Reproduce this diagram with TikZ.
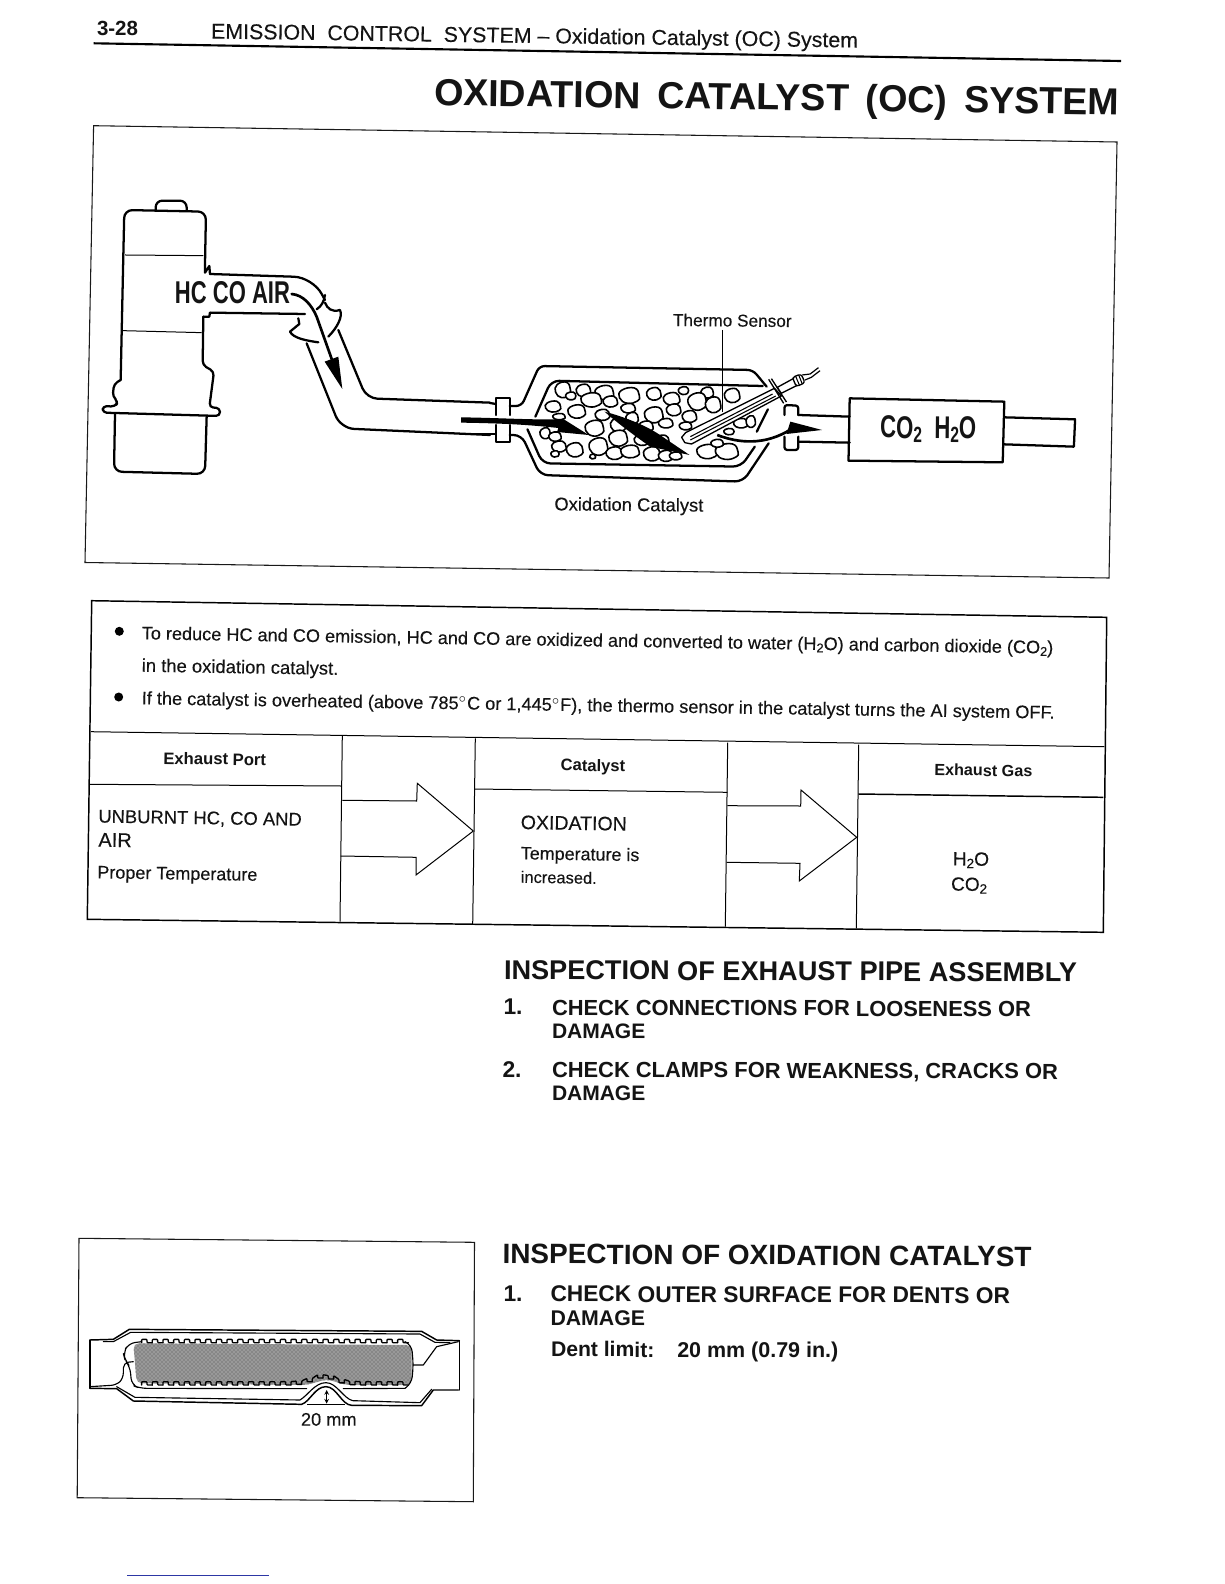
\documentclass[tikz,border=0pt]{standalone}
\usepackage{graphicx}
\usepackage{fontspec}
\usetikzlibrary{patterns}
\setmainfont{Liberation Sans}[UprightFeatures={FakeBold=0.2}]
\newdimen\pxw
\newdimen\pxh
\newcommand\T[6][-0.9]{\node[txt,rotate=#1] (#2) at (#3,#4) {\pxw=#5pt \pxw=0.75\pxw \resizebox{\pxw}{!}{#6}};}
\newcommand\TT[7][-0.5]{\node[txt,rotate=#1] (#2) at (#3,#4) {\pxw=#5pt \pxw=0.75\pxw \pxh=#6pt \pxh=0.75\pxh \resizebox{\pxw}{\pxh}{#7}};}
\newcommand\sub[1]{\raisebox{-0.25ex}{\scalebox{0.7}{#1}}}
\definecolor{linkblue}{RGB}{45,55,165}
\tikzset{
  txt/.style={anchor=base west,inner sep=0pt,outer sep=0pt,text=black!92},
  frame/.style={line width=0.8pt,draw=black!90},
  thick line/.style={line width=1.1pt,draw=black},
  part/.style={line width=1.7pt,draw=black,line join=round,line cap=round},
  fine/.style={line width=0.75pt,draw=black},
  cat/.style={line width=0.85pt,draw=black,line join=round,line cap=round},
  pebble/.style={line width=1.2pt,draw=black,fill=white,line join=round},
}
\begin{document}
\begin{tikzpicture}[x=0.75pt,y=-0.75pt]
\useasboundingbox (0,0) rectangle (1224,1584);
\fill[white] (0,0) rectangle (1224,1584);

% ---- page header
\T[0]{pg}{97}{36}{41}{\bfseries 3-28}
\T[-0.8]{hdr}{211}{38.5}{647}{EMISSION\ \ CONTROL\ \ SYSTEM -- Oxidation Catalyst (OC) System}
\draw[line width=1.6pt] (93.6,43.3) -- (1121,61);
\T[-0.8]{title}{434}{105.5}{685}{\bfseries OXIDATION\ \,CATALYST\ \,(OC)\ \,SYSTEM}

% ---- top figure frame
\draw[frame] (93.6,125.7) -- (1117,142) -- (1109,578) -- (85,562.5) -- cycle;

% ---- engine & front pipe (traced in zoom-1 units)
\begin{scope}[shift={(90,180)},scale=0.3333]
  \draw[part,rounded corners=5pt] (197,90) -- (197,62) -- (290,62) -- (290,92);
  \draw[part,rounded corners=6pt] (345,255) -- (348,95) -- (103,90) -- (100,225) -- (92,600);
  \draw[part,rounded corners=3pt] (92,600) -- (72,612) -- (68,650) -- (85,665) -- (75,680) -- (38,678) -- (38,698) -- (390,708) -- (390,684) -- (358,682) -- (372,575) -- (338,555) -- (340,410);
  \draw[part,rounded corners=6pt] (75,702) -- (72,875) -- (345,882) -- (350,710);
  \draw[fine] (105,225) -- (340,227);
  \draw[fine] (98,452) -- (335,458);
  \draw[part] (345,255) -- (345,278) -- (358,258) -- (360,282);
  \draw[part] (340,410) -- (358,410) -- (360,398);
  \draw[part,rounded corners=14pt] (360,282) -- (668,292) -- (705,360);
  \draw[part] (705,345) .. controls (702,365) and (695,378) .. (680,388);
  \draw[part] (705,368) .. controls (712,385) and (725,398) .. (750,390) .. controls (760,410) and (740,445) .. (715,470);
  \draw[part,rounded corners=8pt] (745,450) -- (830,655) -- (1200,668);
  \draw[part] (360,398) -- (645,402);
  \draw[part] (625,415) -- (628,432) -- (600,455) .. controls (610,475) and (650,482) .. (685,487);
  \draw[part,rounded corners=10pt] (650,490) -- (752,745) -- (1200,765);
  \draw[line width=2pt,line cap=round] (605,342) .. controls (640,345) and (665,375) .. (680,410) -- (728,545);
  \fill (704,545) -- (745,530) -- (757,627) -- cycle;
  \TT[0]{gases}{255}{370}{115}{22}{\bfseries HC\ CO\ AIR}
\end{scope}

% ---- converter & muffler (traced in zoom-2 units)
\begin{scope}[shift={(480,300)},xscale=0.3954,yscale=0.3333]
  % pipe ends and left flange
  \draw[part] (25,309) -- (40,312);
  \draw[part] (-10,402) -- (40,402);
  \draw[part] (40,345) -- (40,295) -- (75,295) -- (75,345);
  \draw[part] (40,375) -- (40,425) -- (75,425) -- (75,375);
  % shell
  \draw[part,rounded corners=4pt] (75,318) -- (105,318) -- (150,198) -- (690,210) -- (725,260);
  \draw[part,rounded corners=6pt] (75,405) -- (105,405) -- (152,525) -- (665,545) -- (730,430);
  % bed
  \draw[part,rounded corners=6pt] (140,350) -- (180,242) -- (715,258);
  \draw[part,rounded corners=6pt] (120,388) -- (158,490) -- (660,500) -- (695,440);
  \draw[part] (700,395) -- (728,328);
  % pellets
  \foreach \X/\Y/\P/\Q in {210/270/15/20,262/272/14/16,315/278/18/18,378/287/20/20,440/282/14/16,485/297/16/16,515/272/10/10,575/278/12/14,638/287/15/18,550/305/18/22,230/288/10/10,185/320/15/14,245/335/17/17,282/300/20/18,330/305/14/14,375/325/14/12,310/345/14/14,440/345/18/20,490/330/14/15,530/350/14/15,590/315/15/20,200/350/12/8,290/385/18/20,350/375/15/18,385/355/12/15,420/380/14/14,470/370/14/12,520/378/12/10,165/400/10/14,190/410/12/12,350/415/18/20,300/440/18/22,340/460/16/16,380/455/18/16,435/462/16/18,470/468/14/14,240/450/16/18,200/440/14/14,190/462/8/8,285/470/6/6,495/468/12/10,575/455/20/18,625/455/22/20,410/420/15/14,600/430/12/10,460/420/14/12,660/370/14/12,685/365/9/15,630/395/10/8}
  {
    \pgfmathsetmacro\A{1.25*\P}
    \pgfmathsetmacro\B{1.15*\Q}
    \draw[pebble] plot[smooth cycle,tension=0.8] coordinates {({\X+\A},\Y) ({\X+0.5*\A},{\Y-\B}) ({\X-0.8*\A},{\Y-0.7*\B}) ({\X-\A},{\Y+0.3*\B}) ({\X-0.2*\A},{\Y+\B}) ({\X+0.8*\A},{\Y+0.7*\B})};
  }
  % flow arrows
  \fill (-48,352) .. controls (60,354) and (130,360) .. (212,358) -- (275,405) -- (195,396) -- (198,384) .. controls (120,374) and (60,370) .. (-48,368) -- cycle;
  \fill (315,335) .. controls (370,352) and (425,380) .. (455,405) -- (530,465) -- (430,440) .. controls (395,410) and (350,372) .. (315,335) -- cycle;
  \draw[line width=2pt] (600,405) .. controls (650,428) and (720,440) .. (790,385);
  \fill (785,365) -- (865,390) -- (775,402) -- cycle;
  % sensor
  \draw[line width=1pt,fill=white,line join=round] (510,412) -- (520,398) -- (745,265) -- (762,288) -- (535,432) -- (518,428) -- cycle;
  \draw[line width=0.8pt] (532,410) -- (740,282);
  \draw[line width=0.8pt] (532,420) -- (748,288);
  \draw[line width=1pt] (730,238) -- (768,310);
  \draw[line width=1pt] (737,236) -- (775,306);
  \draw[line width=1pt,fill=white] (752,262) -- (792,236) -- (802,256) -- (762,280) -- cycle;
  \draw[line width=1pt,fill=white,rounded corners=2pt] (790,232) -- (812,222) -- (822,248) -- (800,260) -- cycle;
  \draw[line width=0.8pt] (798,228) -- (808,256);
  \draw[line width=0.8pt] (806,225) -- (815,252);
  \draw[line width=0.9pt] (815,225) -- (835,222) -- (856,203);
  \draw[line width=0.9pt] (822,240) -- (838,232) -- (860,212);
  % right flange, pipe, muffler
  \draw[part,rounded corners=2pt] (770,345) -- (770,315) -- (805,317) -- (805,345);
  \draw[part,rounded corners=2pt] (770,410) -- (770,450) -- (805,450) -- (805,410);
  \draw[part] (805,345) -- (935,350);
  \draw[part] (805,425) -- (935,428);
  \draw[part] (935,295) -- (1326,305) -- (1322,487) -- (932,482) -- cycle;
  \draw[part] (1326,352) -- (1505,358) -- (1502,440) -- (1324,433);
  \TT[-0.5]{prod}{1012}{414}{96}{22}{\bfseries CO\sub{2}\ \ H\sub{2}O}
  % labels
  \T[-0.5]{thermo}{488}{78}{118.6}{Thermo Sensor}
  \T[-0.5]{oxcat}{188}{631}{149}{Oxidation Catalyst}
  \coordinate (tsa) at (613,90);
  \coordinate (tsb) at (613,335);
  \draw[line width=0.6pt] (tsa) -- (tsb);
\end{scope}

% ---- text and table frame
\draw[thick line] (91.7,600.7) -- (1106.7,617.3) -- (1103.3,932.3) -- (87.3,919.3) -- cycle;
\draw[fine] (91,731.7) -- (1104.3,746.7);
\draw[fine] (342.3,735.7) -- (340,921.7);
\draw[fine] (475.3,738.3) -- (472.7,924.3);
\draw[fine] (727.7,742.7) -- (725.3,926.7);
\draw[fine] (858.7,744.7) -- (856.3,928.3);
\draw[fine] (90,784.3) -- (341.7,786);
\draw[fine] (474.7,789) -- (727.3,792.3);
\draw[thick line] (858.3,794) -- (1103.3,797.3);
% table arrows
\draw[fine,line join=miter] (342.3,800.3) -- (416.7,801) -- (417.3,783.3) -- (473.3,831) -- (416,875) -- (416,857.3) -- (340.7,856);
\draw[fine,line join=miter] (727.3,805.7) -- (800.7,806) -- (801,790) -- (856.7,837.3) -- (799.3,881) -- (800,863.3) -- (726.7,862.3);
% bullets
\fill (119.3,631.3) circle (4.5);
\fill (118.7,697) circle (4.5);
\T{l1}{141.7}{639.3}{911.6}{To reduce HC and CO emission, HC and CO are oxidized and converted to water (H\sub{2}O) and carbon dioxide (CO\sub{2})}
\T{l2}{141.7}{671.7}{196.6}{in the oxidation catalyst.}
\T{l3}{141.7}{704.3}{913}{If the catalyst is overheated (above 785$^{\circ}$C or 1,445$^{\circ}$F), the thermo sensor in the catalyst turns the AI system OFF.}
\T{h1}{163.3}{764}{102.7}{\bfseries Exhaust Port}
\T{h2}{560.7}{770.7}{64.5}{\bfseries Catalyst}
\T{h3}{934.3}{775.3}{98}{\bfseries Exhaust Gas}
\T{c1a}{98.3}{822.5}{203.4}{UNBURNT HC, CO AND}
\T{c1b}{98.3}{846.7}{33.4}{AIR}
\T{c1c}{97.3}{878.3}{160}{Proper Temperature}
\T{c2a}{520.7}{829}{106}{OXIDATION}
\T{c2b}{520.7}{859.3}{118.6}{Temperature is}
\T{c2c}{520.7}{882.7}{76}{increased.}
\T{c3a}{952.7}{865.3}{36.3}{H\sub{2}O}
\T{c3b}{951}{890.5}{36}{CO\sub{2}}

% ---- inspection of exhaust pipe
\T[-0.25]{s1}{504}{979.3}{573}{\bfseries INSPECTION OF EXHAUST PIPE ASSEMBLY}
\T[-0.2]{s1n1}{503.5}{1014.5}{19}{\bfseries 1.}
\T[-0.2]{s1a}{552}{1015}{479}{\bfseries CHECK\ CONNECTIONS\ FOR\ LOOSENESS\ OR}
\T[-0.2]{s1b}{552}{1038.3}{93.3}{\bfseries DAMAGE}
\T[-0.2]{s1n2}{502.5}{1077.3}{19}{\bfseries 2.}
\T[-0.2]{s1c}{552}{1077.3}{506}{\bfseries CHECK\ CLAMPS\ FOR\ WEAKNESS,\ CRACKS\ OR}
\T[-0.2]{s1d}{552}{1100.7}{93.3}{\bfseries DAMAGE}

% ---- inspection of oxidation catalyst
\T[-0.3]{s2}{502.5}{1263.5}{529}{\bfseries INSPECTION OF OXIDATION CATALYST}
\T[-0.2]{s2n}{503.5}{1301}{19}{\bfseries 1.}
\T[-0.2]{s2a}{550.5}{1301.7}{459.5}{\bfseries CHECK\ OUTER\ SURFACE\ FOR\ DENTS\ OR}
\T[-0.2]{s2b}{550.5}{1325}{94.5}{\bfseries DAMAGE}
\T[-0.2]{s2c}{551}{1356.7}{103.4}{\bfseries Dent limit:}
\T[-0.2]{s2d}{677.3}{1357.3}{161}{\bfseries 20 mm (0.79 in.)}

% ---- dent figure frame
\draw[frame] (79,1238.3) -- (474.5,1242.3) -- (473.3,1501.7) -- (77.2,1497.7) -- cycle;
\begin{scope}[shift={(70,1290)},scale=0.3333]
  \fill[black!40,rounded corners=4pt] (190,160) -- (1025,165) -- (1025,285) -- (830,285) -- (770,268) -- (710,285) -- (200,280) -- cycle;
  \fill[pattern=crosshatch dots,pattern color=black!70,rounded corners=4pt] (190,160) -- (1025,165) -- (1025,285) -- (830,285) -- (770,268) -- (710,285) -- (200,280) -- cycle;
  \draw[cat] (60,150) -- (60,295);
  \draw[cat] (1168,152) -- (1168,300);
  \draw[cat,line width=1.1pt] (60,150) -- (130,148) -- (178,118) -- (1055,124) -- (1100,150) -- (1168,152);
  \draw[cat] (100,155) -- (130,155) -- (182,127) -- (1050,132) -- (1095,157) -- (1140,158);
  \draw[cat,line width=1.1pt] (60,295) -- (140,296) -- (190,333) -- (695,343) .. controls (720,335) and (735,290) .. (768,290) .. controls (800,290) and (815,345) .. (845,346) -- (1055,347) -- (1090,300) -- (1165,300);
  \draw[cat] (140,290) -- (195,322) -- (690,330) .. controls (715,315) and (735,278) .. (768,278) .. controls (800,278) and (820,325) .. (848,332) -- (1050,338) -- (1085,298);
  \draw[cat,rounded corners=5pt] (215,155) -- (175,160) -- (160,190) -- (165,210) -- (180,230) -- (185,285) -- (210,295) -- (710,296);
  \draw[cat] (820,296) -- (1005,295);
  \draw[cat,rounded corners=5pt] (1005,155) -- (1025,165) -- (1030,225) -- (1025,280) -- (1005,295);
  \draw[cat,rounded corners=4pt] (60,290) -- (140,285) -- (160,265) -- (160,218) -- (190,215);
  \draw[cat] (1030,225) -- (1060,225) -- (1100,170) -- (1165,155);
  % corrugated sheets
  \foreach \i in {0,...,24}{
    \pgfmathsetmacro\xa{215+32*\i}
    \draw[cat,line width=1pt,rounded corners=0.6pt] (\xa,158) -- (\xa,148) -- (\xa+16,148) -- (\xa+16,158) -- (\xa+32,158);
    \pgfmathsetmacro\ya{285-22*exp(-((\xa-770)/48)^2)}
    \pgfmathsetmacro\yb{285-22*exp(-((\xa+32-770)/48)^2)}
    \draw[cat,line width=1pt,rounded corners=0.6pt] (\xa,\ya) -- (\xa,\ya-10) -- (\xa+16,\yb-10) -- (\xa+16,\yb) -- (\xa+32,\yb);
  }
  % dent dimension
  \coordinate (dta) at (770,300);
  \coordinate (dtb) at (770,341);
  \draw[line width=0.6pt,<->,>=stealth] (dta) -- (dtb);
  \draw[line width=0.6pt] (712,342) -- (825,342);
  \T[0]{dent}{693}{407}{55.6}{20 mm}
\end{scope}

% ---- stray rule at page foot
\draw[linkblue,line width=0.7pt] (127,1575.7) -- (269,1575.7);
\end{tikzpicture}
\end{document}
